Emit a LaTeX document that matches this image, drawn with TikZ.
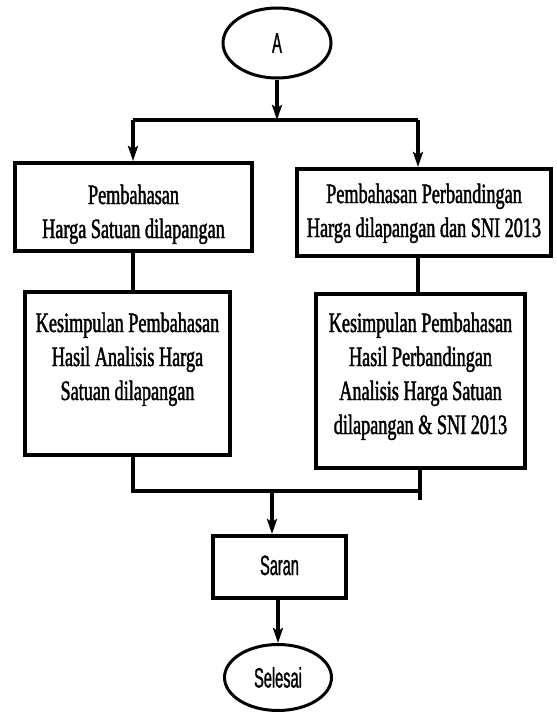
\documentclass[tikz,border=0pt]{standalone}
\usepackage{fontspec}
\usetikzlibrary{shapes.geometric,arrows.meta}
\newfontfamily\boxfont[FakeStretch=0.65,FakeBold=1.5]{Liberation Serif}
\newfontfamily\endfont[FakeStretch=0.52,FakeBold=1]{Liberation Sans}

\begin{document}
\begin{tikzpicture}[x=1pt,y=-1pt,
			proses/.style={draw, line width=4pt, inner sep=0pt, align=flush center,
				font=\boxfont\fontsize{28}{34}\selectfont},
			terminal/.style={draw, ellipse, line width=3pt, inner sep=0pt,
				font=\endfont\fontsize{28}{34}\selectfont},
			garis/.style={line width=3.5pt},
			panah/.style={garis, -{Stealth[length=15pt,width=10pt,inset=3pt]}}]

			\useasboundingbox (0,0) rectangle (557,715);

			\node[terminal, minimum width=108pt, minimum height=70pt] (A) at (277,43) {A};

			\node[proses, text width=237pt, text height=41pt, text depth=47pt] (p1) at (133.5,207)
				{Pembahasan\\Harga Satuan dilapangan};
			\node[proses, text width=254pt, text height=34pt, text depth=53pt] (p2) at (424,212.5)
				{Pembahasan Perbandingan\\Harga dilapangan dan SNI 2013};
			\node[proses, text width=205pt, text height=40pt, text depth=123pt] (k1) at (127.5,373.5)
				{Kesimpulan Pembahasan\\Hasil Analisis Harga\\Satuan dilapangan};
			\node[proses, text width=209pt, text height=38pt, text depth=136pt] (k2) at (420.5,381)
				{Kesimpulan Pembahasan\\Hasil Perbandingan\\Analisis Harga Satuan\\dilapangan \& SNI 2013};
			\node[proses, text width=133pt, text height=39pt, text depth=23pt,
				font=\endfont\fontsize{28}{34}\selectfont] (S) at (279.5,567) {Saran};

			\node[terminal, minimum width=107pt, minimum height=66pt] (E) at (278,677.5) {Selesai};

			% percabangan
			\coordinate (sl) at (133,120);
			\coordinate (sr) at (418,120);
			\coordinate (sa) at (277,120);
			\draw[garis] (sl) -- (sr);
			\draw[panah] (A.south) -- (sa);
			\draw[panah] (sl) -- (sl |- p1.north);
			\draw[panah] (sr) -- (sr |- p2.north);

			\draw[garis] (p1.south -| sl) -- (sl |- k1.north);
			\draw[garis] (p2.south -| sr) -- (sr |- k2.north);

			% penggabungan
			\coordinate (ml) at (133,491);
			\coordinate (mr) at (420,491);
			\coordinate (me) at (420,500);
			\coordinate (mm) at (272,491);
			\draw[garis] (ml |- k1.south) -- (ml) -- (mr);
			\draw[garis] (mr |- k2.south) -- (me);
			\draw[panah] (mm) -- (mm |- S.north);
			\draw[panah] (S.south -| E.north) -- (E.north);
\end{tikzpicture}
\end{document}
